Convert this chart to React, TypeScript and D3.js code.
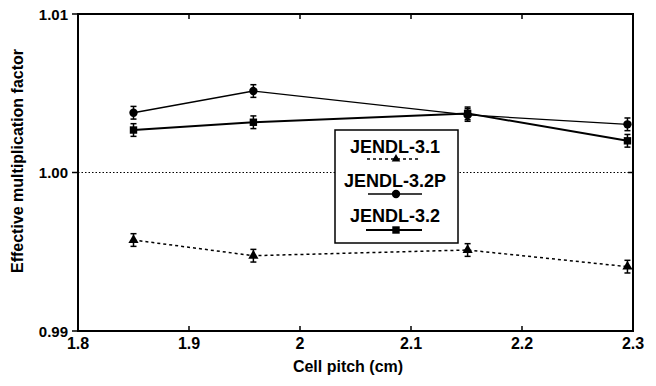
import React from "react";
import * as d3 from "d3";

const pitches = [1.85, 1.958, 2.151, 2.295];
const jendl31 = [0.99574, 0.99475, 0.99511, 0.99406];
const jendl32P = [1.00377, 1.00514, 1.00363, 1.00304];
const jendl32 = [1.00268, 1.00317, 1.00373, 1.002];
const errBar = 0.0004;
const xTicks = [1.8, 1.9, 2.0, 2.1, 2.2, 2.3];
const xTickLabels = ["1.8", "1.9", "2", "2.1", "2.2", "2.3"];
const yTicks = [0.99, 1.0, 1.01];
const yTickLabels = ["0.99", "1.00", "1.01"];
const legendLabels = ["JENDL-3.1", "JENDL-3.2P", "JENDL-3.2"];

const W = 656, H = 386;
const L = 78, R = 633, T = 14, B = 331;
const FONT = "'Liberation Sans', Arial, sans-serif";

export default function App() {
  const x = d3.scaleLinear().domain([1.8, 2.3]).range([L, R]);
  const y = d3.scaleLinear().domain([0.99, 1.01]).range([B, T]);
  const line = d3.line<number>().x((_, i) => x(pitches[i])).y((d) => y(d));

  const errorBars = (vals: number[], key: string) =>
    vals.map((v, i) => (
      <g key={key + i} stroke="#000" strokeWidth={1.5}>
        <line x1={x(pitches[i])} x2={x(pitches[i])} y1={y(v - errBar)} y2={y(v + errBar)} />
        <line x1={x(pitches[i]) - 3} x2={x(pitches[i]) + 3} y1={y(v - errBar)} y2={y(v - errBar)} />
        <line x1={x(pitches[i]) - 3} x2={x(pitches[i]) + 3} y1={y(v + errBar)} y2={y(v + errBar)} />
      </g>
    ));

  const tri = d3.symbol(d3.symbolTriangle, 45)()!;
  const triSmall = d3.symbol(d3.symbolTriangle, 32)()!;
  const circ = d3.symbol(d3.symbolCircle, 55)()!;
  const sq = d3.symbol(d3.symbolSquare, 55)()!;

  const legendX = 395;
  const legendItems = [
    { ty: 153, ly: 159, sym: triSmall, dash: "3,3", sw: 1.5, x1: 367, x2: 420 },
    { ty: 187, ly: 194, sym: circ, dash: undefined, sw: 1.3, x1: 368, x2: 422 },
    { ty: 222, ly: 230, sym: sq, dash: undefined, sw: 2, x1: 366, x2: 422 },
  ];

  return (
    <svg width={W} height={H} style={{ display: "block", position: "absolute", left: 0, top: 0 }} fontFamily={FONT}>
      <rect width={W} height={H} fill="#fff" />
      {/* reference line at k = 1 */}
      <line x1={L} x2={R} y1={y(1.0)} y2={y(1.0)} stroke="#000" strokeWidth={1} strokeDasharray="1.5,2" />

      {/* series lines */}
      <path d={line(jendl31)!} fill="none" stroke="#000" strokeWidth={1.5} strokeDasharray="3,3" />
      <path d={line(jendl32P)!} fill="none" stroke="#000" strokeWidth={1.3} />
      <path d={line(jendl32)!} fill="none" stroke="#000" strokeWidth={2} />

      {errorBars(jendl31, "a")}
      {errorBars(jendl32P, "b")}
      {errorBars(jendl32, "c")}

      {jendl31.map((v, i) => (
        <path key={"t" + i} d={tri} transform={`translate(${x(pitches[i])},${y(v)})`} fill="#000" />
      ))}
      {jendl32P.map((v, i) => (
        <path key={"p" + i} d={circ} transform={`translate(${x(pitches[i])},${y(v)})`} fill="#000" />
      ))}
      {jendl32.map((v, i) => (
        <path key={"s" + i} d={sq} transform={`translate(${x(pitches[i])},${y(v)})`} fill="#000" />
      ))}

      {/* frame */}
      <rect x={L} y={T} width={R - L} height={B - T} fill="none" stroke="#000" strokeWidth={2} />
      {xTicks.map((t, i) => (
        <g key={"xt" + i}>
          <line x1={x(t)} x2={x(t)} y1={B} y2={B - 5} stroke="#000" strokeWidth={1.5} />
          <line x1={x(t)} x2={x(t)} y1={T} y2={T + 5} stroke="#000" strokeWidth={1.5} />
          <text x={x(t)} y={B + 18} textAnchor="middle" fontSize={16} fontWeight="bold">
            {xTickLabels[i]}
          </text>
        </g>
      ))}
      {yTicks.map((t, i) => (
        <g key={"yt" + i}>
          <line x1={L - 6} x2={L} y1={y(t)} y2={y(t)} stroke="#000" strokeWidth={1.5} />
          <line x1={R} x2={R - 5} y1={y(t)} y2={y(t)} stroke="#000" strokeWidth={1.5} />
          <text x={L - 10} y={y(t) + 5.5} textAnchor="end" fontSize={15} fontWeight="bold">
            {yTickLabels[i]}
          </text>
        </g>
      ))}

      <text x={348} y={372} textAnchor="middle" fontSize={16} fontWeight="bold">
        Cell pitch (cm)
      </text>
      <text transform={`translate(23,161) rotate(-90)`} textAnchor="middle" fontSize={16} fontWeight="bold">
        Effective multiplication factor
      </text>

      {/* legend */}
      <rect x={335} y={130} width={123} height={113} fill="#fff" stroke="#000" strokeWidth={1.5} />
      {legendItems.map((it, i) => (
        <g key={legendLabels[i]}>
          <text x={legendX} y={it.ty} textAnchor="middle" fontSize={18} fontWeight="bold">
            {legendLabels[i]}
          </text>
          <line x1={it.x1} x2={it.x2} y1={it.ly} y2={it.ly} stroke="#000" strokeWidth={it.sw} strokeDasharray={it.dash} />
          <path d={it.sym} transform={`translate(${legendX + 1},${it.ly})`} fill="#000" />
        </g>
      ))}
    </svg>
  );
}
